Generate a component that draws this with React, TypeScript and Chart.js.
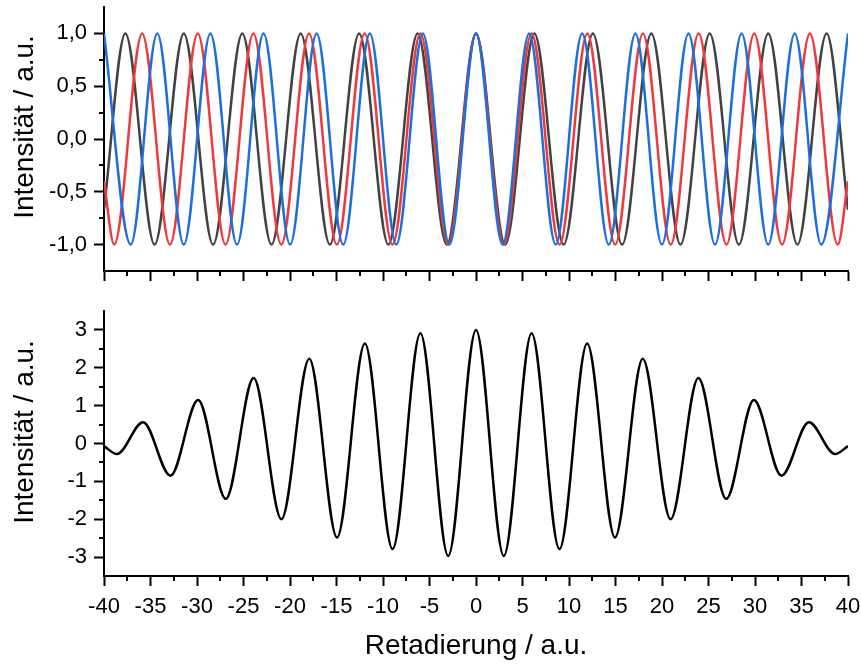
import React, { useEffect, useRef } from 'react';
import { Chart, registerables } from 'chart.js';

Chart.register(...registerables);

// ---- Axis ticks ----
const xTicks = [-40, -35, -30, -25, -20, -15, -10, -5, 0, 5, 10, 15, 20, 25, 30, 35, 40];
const xMinorTicks = [-37.5, -32.5, -27.5, -22.5, -17.5, -12.5, -7.5, -2.5, 2.5, 7.5, 12.5, 17.5, 22.5, 27.5, 32.5, 37.5];
const topYTicks = [-1, -0.5, 0, 0.5, 1];
const topYMinorTicks = [-0.75, -0.25, 0.25, 0.75];
const botYTicks = [-3, -2, -1, 0, 1, 2, 3];
const botYMinorTicks = [-2.5, -1.5, -0.5, 0.5, 1.5, 2.5];

// ---- Top panel: three cosine curves (extrema) ----
const blackX = [-40, -37.7, -34.56, -31.42, -28.27, -25.13, -21.99, -18.85, -15.71, -12.57, -9.42, -6.28, -3.14, 0, 3.14, 6.28, 9.42, 12.57, 15.71, 18.85, 21.99, 25.13, 28.27, 31.42, 34.56, 37.7, 40];
const blackY = [-0.67, 1, -1, 1, -1, 1, -1, 1, -1, 1, -1, 1, -1, 1, -1, 1, -1, 1, -1, 1, -1, 1, -1, 1, -1, 1, -0.67];

const redX = [-40, -38.9, -35.9, -32.91, -29.92, -26.93, -23.94, -20.94, -17.95, -14.96, -11.97, -8.98, -5.98, -2.99, 0, 2.99, 5.98, 8.98, 11.97, 14.96, 17.95, 20.94, 23.94, 26.93, 29.92, 32.91, 35.9, 38.9, 40];
const redY = [-0.4, -1, 1, -1, 1, -1, 1, -1, 1, -1, 1, -1, 1, -1, 1, -1, 1, -1, 1, -1, 1, -1, 1, -1, 1, -1, 1, -1, -0.4];

const blueX = [-40, -37.13, -34.27, -31.42, -28.56, -25.7, -22.85, -19.99, -17.14, -14.28, -11.42, -8.57, -5.71, -2.86, 0, 2.86, 5.71, 8.57, 11.42, 14.28, 17.14, 19.99, 22.85, 25.7, 28.56, 31.42, 34.27, 37.13, 40];
const blueY = [1, -1, 1, -1, 1, -1, 1, -1, 1, -1, 1, -1, 1, -1, 1, -1, 1, -1, 1, -1, 1, -1, 1, -1, 1, -1, 1, -1, 1];

// ---- Bottom panel: sum signal (extrema) ----
const sumX = [-40, -38.6, -35.8, -32.85, -29.88, -26.9, -23.91, -20.92, -17.93, -14.94, -11.95, -8.97, -5.98, -2.99, 0, 2.99, 5.98, 8.97, 11.95, 14.94, 17.93, 20.92, 23.91, 26.9, 29.88, 32.85, 35.8, 38.6, 40];
const sumY = [-0.07, -0.28, 0.56, -0.85, 1.15, -1.46, 1.73, -2.0, 2.24, -2.48, 2.64, -2.79, 2.91, -2.97, 3.0, -2.97, 2.91, -2.79, 2.64, -2.48, 2.24, -2.0, 1.73, -1.46, 1.15, -0.85, 0.56, -0.28, -0.07];

const yTitle = 'Intensität / a.u.';
const xTitle = 'Retadierung / a.u.';

const FONT = "'Liberation Sans', Arial, sans-serif";

const toPoints = (xs: number[], ys: number[]) => xs.map((x, i) => ({ x, y: ys[i] }));

const minorTickPlugin = {
  id: 'minorTicks',
  afterDraw(chart: any, _args: any, opts: any) {
    const ctx = chart.ctx;
    const xs = chart.scales.x;
    const ys = chart.scales.y;
    ctx.save();
    ctx.strokeStyle = '#000';
    ctx.lineWidth = 2;
    ctx.beginPath();
    for (const v of opts.x || []) {
      const px = Math.round(xs.getPixelForValue(v));
      ctx.moveTo(px, xs.top);
      ctx.lineTo(px, xs.top + 5);
    }
    for (const v of opts.y || []) {
      const py = Math.round(ys.getPixelForValue(v));
      ctx.moveTo(ys.right, py);
      ctx.lineTo(ys.right - 5, py);
    }
    ctx.stroke();
    ctx.restore();
  },
};

const yTitlePlugin = {
  id: 'yTitle',
  afterDraw(chart: any, _args: any, opts: any) {
    const ctx = chart.ctx;
    ctx.save();
    ctx.fillStyle = '#000';
    ctx.font = `28px ${FONT}`;
    ctx.textAlign = 'center';
    ctx.textBaseline = 'alphabetic';
    ctx.translate(opts.x, opts.y);
    ctx.rotate(-Math.PI / 2);
    ctx.fillText(opts.text, 0, 0);
    ctx.restore();
  },
};

const gridOpts = {
  drawOnChartArea: false,
  drawTicks: true,
  tickLength: 10,
  tickWidth: 2,
  tickColor: '#000',
  color: '#000',
};
const borderOpts = { display: true, color: '#000', width: 2 };
const tickFont = { family: FONT, size: 22 };

const fmtComma = (v: number) => v.toFixed(1).replace('.', ',');

const fixSize = (dim: 'width' | 'height', size: number) => (s: any) => {
  s[dim] = size;
  s.paddingLeft = 0;
  s.paddingRight = 0;
  s.paddingTop = 0;
  s.paddingBottom = 0;
};

export default function App() {
  const topRef = useRef<HTMLCanvasElement>(null);
  const botRef = useRef<HTMLCanvasElement>(null);

  useEffect(() => {
    const common: any = {
      animation: false,
      responsive: false,
      maintainAspectRatio: false,
      events: [],
      elements: {
        point: { radius: 0 },
        line: { cubicInterpolationMode: 'monotone', borderWidth: 2.5, fill: false },
      },
    };

    const top = new Chart(topRef.current!, {
      type: 'line',
      data: {
        datasets: [
          { data: toPoints(blueX, blueY), borderColor: '#1d6fde' },
          { data: toPoints(redX, redY), borderColor: '#f0393d' },
          { data: toPoints(blackX, blackY), borderColor: '#424242' },
        ],
      },
      options: {
        ...common,
        layout: { padding: { left: 0, right: 13, top: 7, bottom: 0 } },
        plugins: {
          legend: { display: false },
          tooltip: { enabled: false },
          minorTicks: { x: xMinorTicks, y: topYMinorTicks },
          yTitle: { text: yTitle, x: 33, y: 127 },
        },
        scales: {
          x: {
            type: 'linear',
            min: -40,
            max: 40,
            afterBuildTicks: (s: any) => { s.ticks = xTicks.map((value) => ({ value })); },
            afterFit: fixSize('height', 29),
            ticks: { display: false, autoSkip: false },
            grid: gridOpts,
            border: borderOpts,
          },
          y: {
            type: 'linear',
            min: -1.25,
            max: 1.25,
            afterBuildTicks: (s: any) => { s.ticks = topYTicks.map((value) => ({ value })); },
            afterFit: fixSize('width', 104),
            ticks: { font: tickFont, color: '#000', padding: 7, autoSkip: false, callback: (v: any) => fmtComma(Number(v)) },
            grid: gridOpts,
            border: borderOpts,
          },
        },
      },
      plugins: [minorTickPlugin, yTitlePlugin],
    } as any);

    const bot = new Chart(botRef.current!, {
      type: 'line',
      data: {
        datasets: [{ data: toPoints(sumX, sumY), borderColor: '#000000' }],
      },
      options: {
        ...common,
        layout: { padding: { left: 0, right: 13, top: 11, bottom: 0 } },
        plugins: {
          legend: { display: false },
          tooltip: { enabled: false },
          minorTicks: { x: xMinorTicks, y: botYMinorTicks },
          yTitle: { text: yTitle, x: 33, y: 132 },
        },
        scales: {
          x: {
            type: 'linear',
            min: -40,
            max: 40,
            afterBuildTicks: (s: any) => { s.ticks = xTicks.map((value) => ({ value })); },
            afterFit: fixSize('height', 90),
            ticks: { font: tickFont, color: '#000', padding: 8, autoSkip: false, maxRotation: 0, callback: (v: any) => String(v) },
            grid: gridOpts,
            border: borderOpts,
            title: { display: true, text: xTitle, color: '#000', font: { family: FONT, size: 28 }, padding: { top: 0, bottom: 3 } },
          },
          y: {
            type: 'linear',
            min: -3.5,
            max: 3.5,
            afterBuildTicks: (s: any) => { s.ticks = botYTicks.map((value) => ({ value })); },
            afterFit: fixSize('width', 104),
            ticks: { font: tickFont, color: '#000', padding: 7, autoSkip: false, callback: (v: any) => String(v) },
            grid: gridOpts,
            border: borderOpts,
          },
        },
      },
      plugins: [minorTickPlugin, yTitlePlugin],
    } as any);

    return () => {
      top.destroy();
      bot.destroy();
    };
  }, []);

  return (
    <div style={{ position: 'fixed', left: 0, top: 0, width: 861, height: 666, background: '#fff' }}>
      <canvas ref={topRef} width={861} height={300} style={{ position: 'absolute', left: 0, top: 0 }} />
      <canvas ref={botRef} width={861} height={366} style={{ position: 'absolute', left: 0, top: 300 }} />
    </div>
  );
}
